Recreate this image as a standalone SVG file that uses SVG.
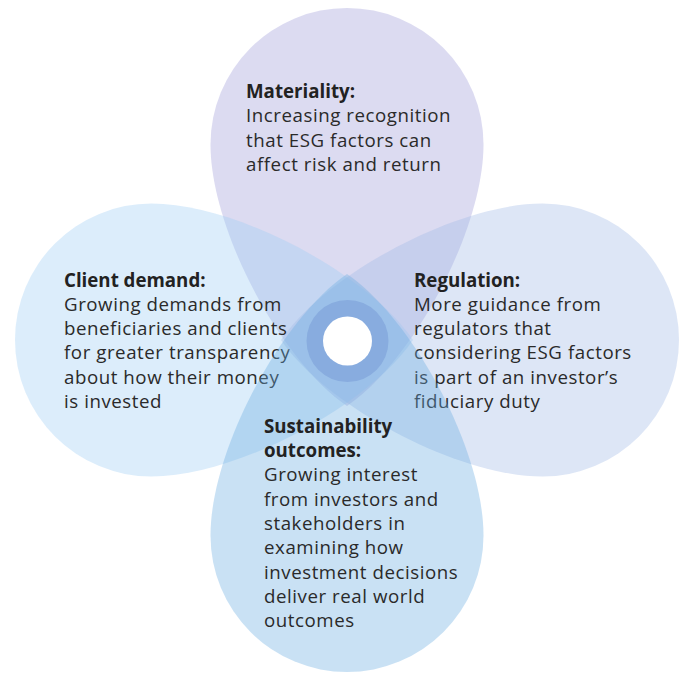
<svg xmlns="http://www.w3.org/2000/svg" width="681" height="675" viewBox="0 0 681 675">
  <style>
    .petal { fill-opacity: 0.36; }
    .title { font-family: "Open Sans", "Liberation Sans", sans-serif; font-size: 18.7px; font-weight: 700; fill: #222222; }
    .body { font-family: "Open Sans", "Liberation Sans", sans-serif; font-size: 18.7px; font-weight: 400; fill: #2a2a2a; letter-spacing: 0.55px; }
  </style>
  <defs>
    <path id="drop" d="M 347 406 C 281 361, 210.5 230, 210.5 144.5 A 136.5 136.5 0 0 1 483.5 144.5 C 483.5 230, 413 361, 347 406 Z"/>
  </defs>
  <rect width="681" height="675" fill="#ffffff"/>
  <g id="materiality">
    <use href="#drop" class="petal" fill="#9e9bd7"/>
    <text class="title" x="246" y="98">Materiality:</text>
    <text class="body" x="246" y="122.3">Increasing recognition</text>
    <text class="body" x="246" y="146.6">that ESG factors can</text>
    <text class="body" x="246" y="170.9">affect risk and return</text>
  </g>
  <g id="client-demand">
    <use href="#drop" class="petal" fill="#9eccf4" transform="rotate(-90 347 340)"/>
    <text class="title" x="64" y="286.5">Client demand:</text>
    <text class="body" x="64" y="310.8">Growing demands from</text>
    <text class="body" x="64" y="335.1">beneficiaries and clients</text>
    <text class="body" x="64" y="359.4">for greater transparency</text>
    <text class="body" x="64" y="383.7">about how their money</text>
    <text class="body" x="64" y="408">is invested</text>
  </g>
  <g id="regulation">
    <use href="#drop" class="petal" fill="#a1bae5" transform="rotate(90 347 340)"/>
    <text class="title" x="414" y="286.5">Regulation:</text>
    <text class="body" x="414" y="310.8">More guidance from</text>
    <text class="body" x="414" y="335.1">regulators that</text>
    <text class="body" x="414" y="359.4">considering ESG factors</text>
    <text class="body" x="414" y="383.7">is part of an investor’s</text>
    <text class="body" x="414" y="408">fiduciary duty</text>
  </g>
  <g id="sustainability-outcomes">
    <use href="#drop" class="petal" fill="#68ace0" transform="rotate(180 347 340)"/>
    <text class="title" x="264" y="432.7">Sustainability</text>
    <text class="title" x="264" y="457">outcomes:</text>
    <text class="body" x="264" y="481.3">Growing interest</text>
    <text class="body" x="264" y="505.6">from investors and</text>
    <text class="body" x="264" y="529.9">stakeholders in</text>
    <text class="body" x="264" y="554.2">examining how</text>
    <text class="body" x="264" y="578.5">investment decisions</text>
    <text class="body" x="264" y="602.8">deliver real world</text>
    <text class="body" x="264" y="627.1">outcomes</text>
  </g>
  <g id="hub">
    <circle cx="347.5" cy="341" r="41" fill="#88acdf"/>
    <circle cx="347.5" cy="341" r="24.5" fill="#ffffff"/>
  </g>
  <g id="connectors"/>
</svg>
